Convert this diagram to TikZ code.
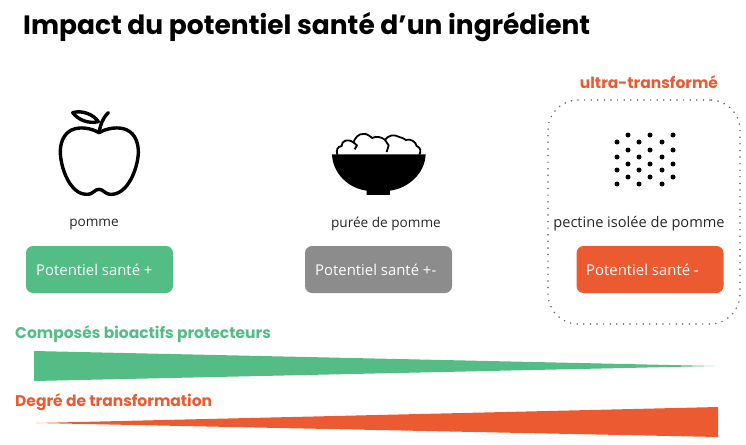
\documentclass[tikz,border=0pt]{standalone}
\usepackage{fontspec}
\setmainfont{Open Sans}
\newfontfamily\pop{Poppins}
\definecolor{vert}{HTML}{54BC85}
\definecolor{rouge}{HTML}{EC5A32}
\definecolor{gris}{HTML}{8C8C8C}
\tikzset{
  sante/.style={rounded corners=7pt,minimum width=147pt,minimum height=47pt,inner sep=0pt},
  santetxt/.style={text=white,font=\fontsize{14.9}{16}\selectfont,inner sep=0pt,anchor=west},
  lbl/.style={font=\fontsize{13.6}{15}\selectfont,text=black!85,inner sep=0pt},
  head/.style={font=\pop\bfseries\fontsize{15.5}{17}\selectfont,inner sep=0pt},
  grain/.style={circle,fill=black,inner sep=0pt,minimum size=5pt},
}
\begin{document}
\begin{tikzpicture}[x=1pt,y=-1pt]
\useasboundingbox (0,0) rectangle (746,444);
\node[anchor=west,inner sep=0pt,font=\pop\bfseries\fontsize{26.5}{30}\selectfont] (title) at (23,27) {Impact du potentiel santé d’un ingrédient};
% apple
\begin{scope}[shift={(30,90)},x=0.3333pt,y=-0.3333pt,line width=3.4pt,line join=round,line cap=round]
\draw (207,128) .. controls (185,115) and (150,108) .. (125,120) .. controls (100,132) and (90,160) .. (91,190)
  .. controls (93,235) and (120,313) .. (170,313) .. controls (192,313) and (192,298) .. (207,298)
  .. controls (222,298) and (222,313) .. (244,313) .. controls (294,313) and (323,235) .. (325,190)
  .. controls (326,160) and (316,132) .. (291,120) .. controls (266,108) and (229,115) .. (207,128) -- cycle;
\draw (207,128) .. controls (212,105) and (215,88) .. (235,68);
\draw (128,68) .. controls (155,60) and (190,72) .. (205,95) .. controls (175,102) and (145,90) .. (128,68) -- cycle;
\end{scope}
% bowl
\begin{scope}[shift={(310,110)},x=0.3333pt,y=-0.3333pt]
\draw[line width=1.8pt,line join=round] (82,134) .. controls (78,120) and (82,110) .. (95,108)
  .. controls (95,92) and (112,85) .. (130,97) .. controls (135,85) and (145,70) .. (160,72)
  .. controls (172,70) and (180,80) .. (187,84) .. controls (197,78) and (215,80) .. (225,90)
  .. controls (232,76) and (255,72) .. (265,80) .. controls (275,80) and (282,88) .. (288,90)
  .. controls (300,85) and (318,95) .. (320,108) .. controls (332,112) and (334,125) .. (328,134);
\draw[line width=1.8pt,line join=round] (130,97) -- (141,106) -- (134,118);
\draw[line width=1.8pt,line join=round] (225,90) -- (236,106) -- (230,126);
\fill (66,133) -- (347,133) .. controls (345,190) and (295,235) .. (240,242) -- (240,255) -- (170,255) -- (170,242) .. controls (115,235) and (68,190) .. (66,133) -- cycle;
\end{scope}
% grains
\foreach \gx in {617,639,662}\foreach \gy in {142,157,170,184}\node[grain] at (\gx,\gy) {};
\foreach \gx in {628,650,673}\foreach \gy in {135,150,164,177}\node[grain] at (\gx,\gy) {};
% dotted frame
\node[draw=black!60,line width=1.7pt,dash pattern=on 0pt off 6.6pt,line cap=round,rounded corners=30pt,minimum width=192pt,minimum height=224pt,inner sep=0pt] (frame) at (644,212) {};
\node[head,text=rouge] (ultra) at (649,82) {ultra-transformé};
% labels
\node[lbl] (l1) at (94,224) {pomme};
\node[lbl] (l2) at (386,224) {purée de pomme};
\node[lbl,font=\fontsize{14.6}{16}\selectfont] (l3) at (639,224) {pectine isolée de pomme};
% boxes
\node[sante,fill=vert] (b1) at (99.5,269.5) {};
\node[sante,fill=gris] (b2) at (378.5,269.5) {};
\node[sante,fill=rouge] (b3) at (650,269.5) {};
\node[santetxt] (t1) at (36,270) {Potentiel santé +};
\node[santetxt] (t2) at (315,270) {Potentiel santé +-};
\node[santetxt] (t3) at (586,270) {Potentiel santé -};
% wedges
\node[head,text=vert,anchor=west] (c1) at (15,334) {Composés bioactifs protecteurs};
\fill[vert] (34,351) -- (715,366) -- (34,381) -- cycle;
\node[head,text=rouge,anchor=west] (c2) at (15,402) {Degré de transformation};
\fill[rouge] (36,423) -- (718,407) -- (718,437) -- cycle;
\end{tikzpicture}
\end{document}
